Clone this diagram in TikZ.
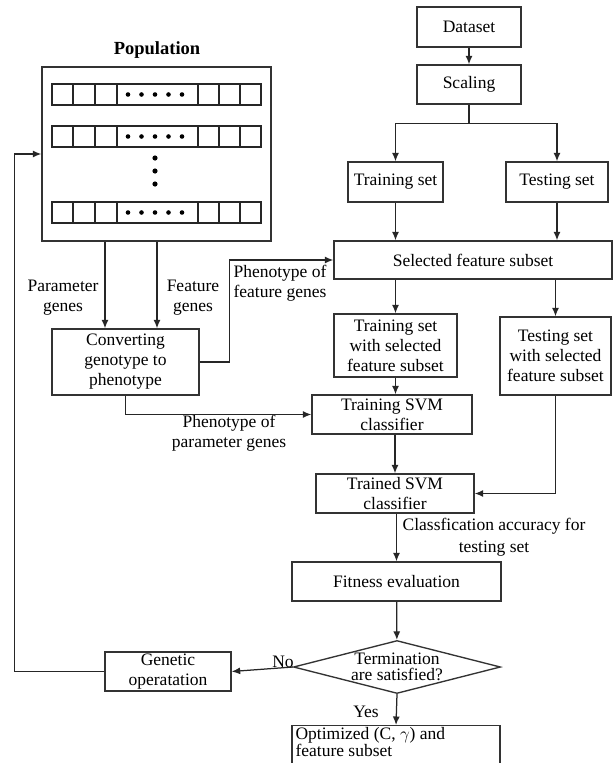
\documentclass[tikz,border=0pt]{standalone}
\usepackage{fontspec}
\setmainfont{Liberation Serif}
\usetikzlibrary{positioning,calc,shapes.geometric,arrows.meta}

\begin{document}
\begin{tikzpicture}[x=1pt,y=-1pt,>={Latex[length=8.5pt,width=7pt]},
	font=\fontsize{17.5}{20}\selectfont]
	
	\tikzset{
		box/.style={draw=black!80, line width=1.35pt, align=center, inner sep=0pt},
		link/.style={draw=black!85, line width=1.25pt},
		lbl/.style={align=center, inner sep=0pt}
	}
	
	\useasboundingbox (0,0) rectangle (613,763);
	
	% ===== POPULATION =====
	\node[font=\fontsize{18.5}{20}\selectfont\bfseries] (poptitle) at (157,50) {Population};
	\node[box, minimum width=229, minimum height=174] (pop) at (156.5,154) {};
	\foreach \ry in {84,126,202} {
		\draw[link] (52,\ry) rectangle (261,\ry+21);
		\foreach \cx in {73,95,117,198,219,240}
		\draw[link] (\cx,\ry) -- (\cx,\ry+21);
		\foreach \dx in {128,141.5,155,168.5,182}
		\fill (\dx,\ry+10.5) circle[radius=2.3pt];
	}
	\foreach \dy in {158,171,184}
	\fill (155,\dy) circle[radius=2.6pt];
	
	% ===== DATA SIDE (RIGHT) =====
	\node[box, minimum width=104, minimum height=40] (dataset) at (469,27) {Dataset};
	\node[box, minimum width=104, minimum height=39] (scaling) at (469,84.5) {Scaling};
	\node[box, minimum width=95, minimum height=40] (trainset) at (395.5,182) {Training set};
	\node[box, minimum width=102, minimum height=40] (testset) at (557,182) {Testing set};
	\node[box, minimum width=278, minimum height=38] (featsub) at (473,260) {Selected feature subset};
	\node[box, minimum width=123, minimum height=63] (trainsel) at (395.5,345.5) {Training set\\with selected\\feature subset};
	\node[box, minimum width=111, minimum height=78] (testsel) at (555.5,356) {Testing set\\with selected\\feature subset};
	\node[box, minimum width=160, minimum height=39] (trainsvm) at (392,414.5) {Training SVM\\classifier};
	\node[box, minimum width=158, minimum height=39] (trainedsvm) at (395,493.5) {Trained SVM\\classifier};
	\node[box, minimum width=209, minimum height=39] (fitness) at (396.5,581.5) {Fitness evaluation};
	\node[box, diamond, minimum width=207, minimum height=53,
	label={[lbl, font=\fontsize{17.5}{16.5}\selectfont]center:Termination\\are satisfied?}] (term) at (397,667) {};
	\node[box, minimum width=208, minimum height=46, anchor=north,
	label={[lbl, align=left, anchor=north west, xshift=4, yshift=-2,
		font=\fontsize{17.5}{17}\selectfont]north west:Optimized (C, $\gamma$) and\\feature subset}] (optim) at (396,725) {};
	
	% ===== GA SIDE (LEFT) =====
	\node[box, minimum width=147, minimum height=66] (convert) at (125.5,362) {Converting\\genotype to\\phenotype};
	\node[box, minimum width=126, minimum height=39] (genop) at (168,671.5) {Genetic\\operatation};
	
	% ===== LABELS =====
	\node[lbl] (lblparam) at (63,298) {Parameter\\genes};
	\node[lbl] (lblfeat) at (193,298) {Feature\\genes};
	\node[lbl, align=left] (lblphenf) at (280,283) {Phenotype of\\feature genes};
	\node[lbl] (lblphenp) at (229,433) {Phenotype of\\parameter genes};
	\node[lbl, font=\fontsize{17.5}{22}\selectfont] (lblacc) at (494,537) {Classfication accuracy for\\testing set};
	\node[lbl] (lblno) at (283,662) {No};
	\node[lbl] (lblyes) at (366,712) {Yes};
	
	% ===== ARROWS =====
	\draw[link,->] (dataset) -- (scaling);
	\coordinate (split) at ($(scaling.south)+(0,19)$);
	\draw[link] (scaling.south) -- (split);
	\draw[link,->] (split) -| (trainset.north);
	\draw[link,->] (split) -| (testset.north);
	\draw[link,->] (trainset.south) -- (trainset.south |- featsub.north);
	\draw[link,->] (testset.south) -- (testset.south |- featsub.north);
	\draw[link,->] (featsub.south -| trainsel.north) -- (trainsel.north);
	\draw[link,->] (featsub.south -| testsel.north) -- (testsel.north);
	\draw[link,->] (trainsel.south) -- (trainsel.south |- trainsvm.north);
	\draw[link,->] (trainsvm.south -| trainedsvm.north) -- (trainedsvm.north);
	\draw[link,->] (testsel.south) |- (trainedsvm.east);
	\draw[link,->] (trainedsvm.south -| fitness.north) -- (fitness.north);
	\draw[link,->] (fitness) -- (term);
	\draw[link,->] (term.west) -- (genop.east);
	\draw[link,->] (term.south) -- (optim.north);
	
	\coordinate (back) at ([xshift=-90]genop.west);
	\draw[link,->] (genop.west) -- (back) |- (pop.west);
	
	\draw[link,->] ([xshift=-51.5]pop.south) -- ([xshift=-51.5]pop.south |- convert.north);
	\draw[link,->] ([xshift=0.5]pop.south) -- ([xshift=0.5]pop.south |- convert.north);
	\draw[link,->] (convert.east) -- ++(30,0) |- (featsub.west);
	\draw[link,->] (convert.south) |- (trainsvm.west);
	
\end{tikzpicture}
\end{document}
